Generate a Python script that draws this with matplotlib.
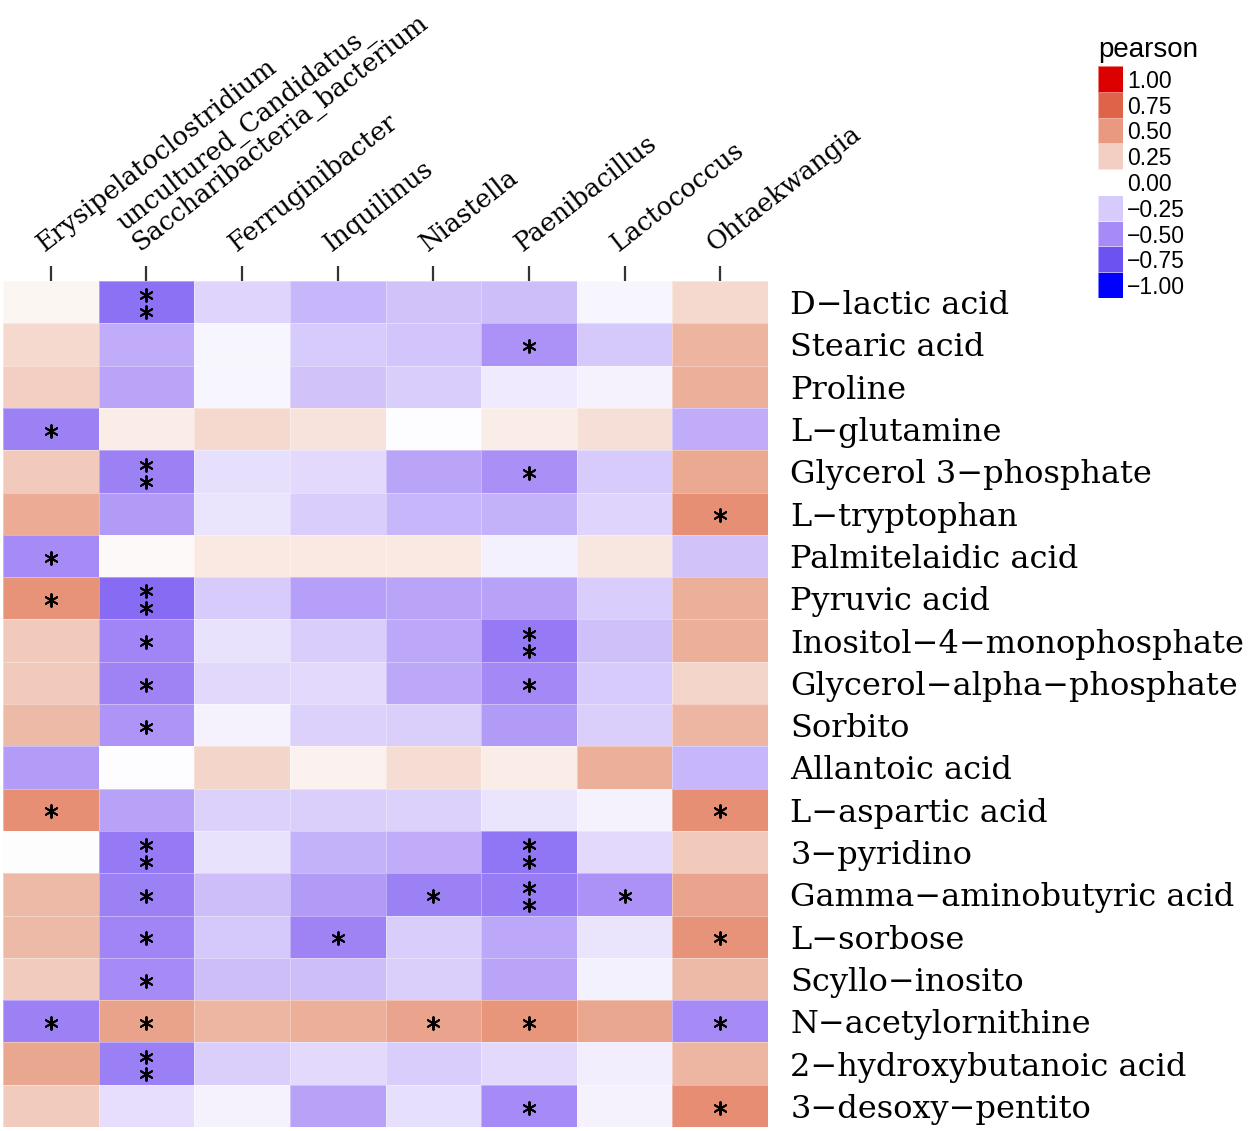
import numpy as np
import matplotlib
matplotlib.use("Agg")
import matplotlib.pyplot as plt
from matplotlib.colors import LinearSegmentedColormap, Normalize
from matplotlib.transforms import blended_transform_factory, ScaledTranslation

# ---------------- data ----------------
genera = ["Erysipelatoclostridium",
          "uncultured_Candidatus_\nSaccharibacteria_bacterium",
          "Ferruginibacter", "Inquilinus", "Niastella",
          "Paenibacillus", "Lactococcus", "Ohtaekwangia"]

metabolites = ["D\u2212lactic acid", "Stearic acid", "Proline", "L\u2212glutamine",
               "Glycerol 3\u2212phosphate", "L\u2212tryptophan", "Palmitelaidic acid",
               "Pyruvic acid", "Inositol\u22124\u2212monophosphate",
               "Glycerol\u2212alpha\u2212phosphate", "Sorbito", "Allantoic acid",
               "L\u2212aspartic acid", "3\u2212pyridino", "Gamma\u2212aminobutyric acid",
               "L\u2212sorbose", "Scyllo\u2212inosito", "N\u2212acetylornithine",
               "2\u2212hydroxybutanoic acid", "3\u2212desoxy\u2212pentito"]

pearson = [
    [0.05, -0.61, -0.20, -0.33, -0.28, -0.30, -0.05, 0.20],
    [0.20, -0.37, -0.05, -0.25, -0.27, -0.47, -0.26, 0.38],
    [0.25, -0.40, -0.05, -0.28, -0.24, -0.10, -0.06, 0.40],
    [-0.54, 0.10, 0.20, 0.15, -0.01, 0.10, 0.17, -0.37],
    [0.28, -0.54, -0.15, -0.18, -0.40, -0.48, -0.25, 0.43],
    [0.42, -0.44, -0.13, -0.24, -0.33, -0.35, -0.20, 0.55],
    [-0.50, 0.03, 0.12, 0.12, 0.12, -0.07, 0.13, -0.28],
    [0.53, -0.63, -0.25, -0.42, -0.40, -0.41, -0.24, 0.40],
    [0.28, -0.52, -0.14, -0.24, -0.39, -0.57, -0.29, 0.40],
    [0.28, -0.53, -0.19, -0.18, -0.39, -0.51, -0.25, 0.22],
    [0.35, -0.46, -0.06, -0.22, -0.23, -0.44, -0.23, 0.37],
    [-0.43, -0.01, 0.22, 0.07, 0.18, 0.10, 0.40, -0.33],
    [0.55, -0.41, -0.22, -0.23, -0.22, -0.13, -0.06, 0.55],
    [0.01, -0.57, -0.14, -0.35, -0.37, -0.59, -0.18, 0.28],
    [0.35, -0.54, -0.30, -0.44, -0.54, -0.56, -0.47, 0.45],
    [0.35, -0.52, -0.26, -0.53, -0.24, -0.39, -0.13, 0.53],
    [0.27, -0.50, -0.30, -0.30, -0.23, -0.40, -0.07, 0.35],
    [-0.54, 0.46, 0.37, 0.40, 0.45, 0.52, 0.44, -0.50],
    [0.44, -0.55, -0.23, -0.18, -0.24, -0.18, -0.08, 0.37],
    [0.27, -0.16, -0.06, -0.41, -0.15, -0.50, -0.06, 0.56],
]

# number of significance stars per cell
stars = [
    [0, 2, 0, 0, 0, 0, 0, 0],
    [0, 0, 0, 0, 0, 1, 0, 0],
    [0, 0, 0, 0, 0, 0, 0, 0],
    [1, 0, 0, 0, 0, 0, 0, 0],
    [0, 2, 0, 0, 0, 1, 0, 0],
    [0, 0, 0, 0, 0, 0, 0, 1],
    [1, 0, 0, 0, 0, 0, 0, 0],
    [1, 2, 0, 0, 0, 0, 0, 0],
    [0, 1, 0, 0, 0, 2, 0, 0],
    [0, 1, 0, 0, 0, 1, 0, 0],
    [0, 1, 0, 0, 0, 0, 0, 0],
    [0, 0, 0, 0, 0, 0, 0, 0],
    [1, 0, 0, 0, 0, 0, 0, 1],
    [0, 2, 0, 0, 0, 2, 0, 0],
    [0, 1, 0, 0, 1, 2, 1, 0],
    [0, 1, 0, 1, 0, 0, 0, 1],
    [0, 1, 0, 0, 0, 0, 0, 0],
    [1, 1, 0, 0, 1, 1, 0, 1],
    [0, 2, 0, 0, 0, 0, 0, 0],
    [0, 0, 0, 0, 0, 1, 0, 1],
]

legend_values = [1.00, 0.75, 0.50, 0.25, 0.00, -0.25, -0.50, -0.75, -1.00]

# ---------------- colour scale ----------------
scale_points = [-1.0, -0.75, -0.5, -0.25, 0.0, 0.25, 0.5, 0.75, 1.0]
scale_colors = ["#0000FF", "#6C52F1", "#A68AF6", "#D7CBFB", "#FFFFFF",
                "#F2D0C3", "#E89A80", "#DF644A", "#DC0000"]
cmap = LinearSegmentedColormap.from_list(
    "pearson", [((p + 1) / 2, c) for p, c in zip(scale_points, scale_colors)], N=512)
norm = Normalize(vmin=-1, vmax=1)

# ---------------- figure ----------------
W, H = 1253, 1131
fig = plt.figure(figsize=(W / 100, H / 100), dpi=100)
ax = fig.add_axes([3 / W, 1 - 1127 / H, 765 / W, 846 / H])

data = np.array(pearson)
nr, nc = data.shape
ax.pcolormesh(np.arange(nc + 1), np.arange(nr + 1), data, cmap=cmap, norm=norm,
              edgecolors=(1, 1, 1, 0.35), linewidth=0.5)
ax.set_xlim(0, nc)
ax.set_ylim(nr, 0)
for s in ax.spines.values():
    s.set_visible(False)

# stars
sig = np.array(stars)
xs, ys = [], []
for i in range(nr):
    for j in range(nc):
        if sig[i, j] == 1:
            xs.append(j + 0.5); ys.append(i + 0.54)
        elif sig[i, j] == 2:
            xs += [j + 0.5, j + 0.5]; ys += [i + 0.34, i + 0.74]
ax.scatter(xs, ys, marker=(6, 2, 0), s=85, c="black", linewidths=1.4, zorder=5)

# x ticks (top) and rotated labels
ax.set_xticks(np.arange(nc) + 0.5)
ax.tick_params(axis="x", top=True, bottom=False, labeltop=False, labelbottom=False,
               length=11, width=1.6, color="#333333", direction="out")
trans = blended_transform_factory(ax.transData, ax.transAxes) + \
    ScaledTranslation(-6 / 100, 29 / 100, fig.dpi_scale_trans)
for j, g in enumerate(genera):
    ax.text(j + 0.5, 1.0, g, transform=trans, rotation=38, rotation_mode="anchor",
            ha="left", va="baseline", fontsize=18.5, family="DejaVu Serif",
            linespacing=0.95)

# y labels on the right
ax.set_yticks(np.arange(nr) + 0.5)
ax.set_yticklabels(metabolites, fontsize=23, family="DejaVu Serif")
ax.yaxis.tick_right()
ax.tick_params(axis="y", length=0, pad=16)

# legend
lax = fig.add_axes([1098 / W, 1 - 298 / H, 25 / W, 232 / H])
lv = np.array(legend_values[::-1]).reshape(-1, 1)
lax.pcolormesh(np.arange(2), np.arange(len(lv) + 1), lv, cmap=cmap, norm=norm,
               edgecolors=(1, 1, 1, 0.5), linewidth=0.6)
lax.set_xlim(0, 1)
lax.set_ylim(0, len(lv))
for s in lax.spines.values():
    s.set_visible(False)
lax.set_xticks([])
lax.set_yticks(np.arange(len(lv)) + 0.5)
lax.set_yticklabels([f"{v:.2f}".replace("-", "\u2212") for v in lv.ravel()],
                    fontsize=16.5, family="Liberation Sans")
lax.yaxis.tick_right()
lax.tick_params(axis="y", length=0, pad=3)
fig.text(1098 / W, 1 - 50 / H, "pearson", ha="left", va="center", fontsize=20,
         family="Liberation Sans")

fig.savefig("out.png", dpi=100)
